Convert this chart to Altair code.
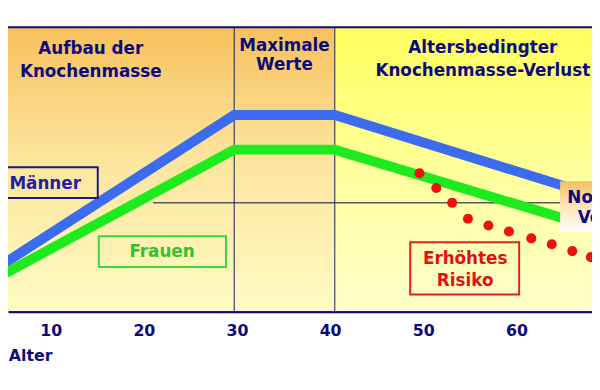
import altair as alt
import pandas as pd

# ---- data (age in years, bone mass in arbitrary units 0-100) ----
ages = [0, 29.7, 40.5, 66]
maenner = [6.3, 69.1, 69.1, 43.2]
frauen = [4.3, 56.9, 56.9, 31.8]

risk_age = [49.6, 51.4, 53.1, 54.8, 57.0, 59.2, 61.6, 63.8, 66.0, 68.0]
risk_mass = [48.6, 43.4, 38.2, 32.6, 30.2, 28.1, 25.7, 23.6, 21.2, 19.1]

phase_bounds = [29.7, 40.5]
tick_values = [10, 20, 30, 40, 50, 60]
ref_level = 38.2
ref_start = 21.0

phase_titles = ["Aufbau der", "Knochenmasse", "Maximale", "Werte",
                "Altersbedingter", "Knochenmasse-Verlust"]
phase_title_x = [14.3, 14.3, 35.1, 35.1, 56.4, 56.4]
phase_title_y = [90.6, 82.6, 91.8, 84.8, 90.9, 83.0]

NAVY = "#0B0B7D"
BLUE = "#3B6BEF"
GREEN = "#1EEB1E"
GREEN_TXT = "#2FC42F"
RED = "#EE1111"

X_DOMAIN = [5.41, 68.12]
xs = alt.Scale(domain=X_DOMAIN, nice=False, zero=False)
ys = alt.Scale(domain=[0, 100], nice=False, zero=False)
xaxis = alt.Axis(values=tick_values, title=None, ticks=False, tickSize=0, grid=False,
                 domainColor=NAVY, domainWidth=3, labelFont="DejaVu Sans",
                 labelFontWeight="bold", labelFontSize=16, labelColor=NAVY,
                 labelPadding=11, format="d", labelOverlap=False, labelFlush=False)


def X(f):
    return alt.X(f, type="quantitative", scale=xs, axis=xaxis)


def Y(f):
    return alt.Y(f, type="quantitative", scale=ys, axis=None)


def grad(stops):
    return alt.Gradient(gradient="linear",
                        stops=[alt.GradientStop(color=c, offset=o) for o, c in stops],
                        x1=0, x2=0, y1=0, y2=1)


# backgrounds
bg_left = alt.Chart(pd.DataFrame({"x": [0], "x2": [phase_bounds[1]], "y": [0], "y2": [100]})).mark_rect(
    fill=grad([(0, "#F8C05C"), (0.45, "#FCE49C"), (1, "#FFFBC4")]), strokeWidth=0, clip=True
).encode(x=X("x"), x2="x2", y=Y("y"), y2="y2")

bg_right = alt.Chart(pd.DataFrame({"x": [phase_bounds[1]], "x2": [80], "y": [0], "y2": [100]})).mark_rect(
    fill=grad([(0, "#FFFF5C"), (0.5, "#FFFF9C"), (1, "#FFFFCC")]), strokeWidth=0, clip=True
).encode(x=X("x"), x2="x2", y=Y("y"), y2="y2")

ref_rule = alt.Chart(pd.DataFrame({"x": [ref_start], "x2": [80], "y": [ref_level]})).mark_rule(
    color="#5A5A5A", strokeWidth=1.5, clip=True
).encode(x=X("x"), x2="x2", y=Y("y"))

vrules = alt.Chart(pd.DataFrame({"x": phase_bounds})).mark_rule(
    color="#1A1A60", strokeWidth=1
).encode(x=X("x"))

line_m = alt.Chart(pd.DataFrame({"age": ages, "mass": maenner})).mark_line(
    color=BLUE, strokeWidth=10, strokeJoin="miter", strokeCap="butt", clip=True
).encode(x=X("age"), y=Y("mass"))

line_f = alt.Chart(pd.DataFrame({"age": ages, "mass": frauen})).mark_line(
    color=GREEN, strokeWidth=10, strokeJoin="miter", strokeCap="butt", clip=True
).encode(x=X("age"), y=Y("mass"))

dots = alt.Chart(pd.DataFrame({"age": risk_age, "mass": risk_mass})).mark_circle(
    color=RED, size=105, opacity=1, clip=True
).encode(x=X("age"), y=Y("mass"))

# label boxes
boxes = pd.DataFrame({
    "x": [0, 15.16, 48.6], "x2": [15.05, 28.82, 60.3],
    "y": [39.9, 15.6, 5.9], "y2": [50.7, 26.4, 24.3],
    "c": ["#1A1A80", "#3ED43E", "#E02020"],
})
box_marks = alt.Chart(boxes).mark_rect(fillOpacity=0, strokeWidth=2, clip=True).encode(
    x=X("x"), x2="x2", y=Y("y"), y2="y2", stroke=alt.Stroke("c:N", scale=None)
)

norm_box = alt.Chart(pd.DataFrame({"x": [64.7], "x2": [76], "y": [28.1], "y2": [45.8]})).mark_rect(
    fill=grad([(0, "#F4C066"), (0.55, "#FCE8C0"), (1, "#FFFFFF")]), strokeWidth=0, clip=True
).encode(x=X("x"), x2="x2", y=Y("y"), y2="y2")

title_text = alt.Chart(pd.DataFrame({"t": phase_titles, "x": phase_title_x, "y": phase_title_y})).mark_text(
    font="DejaVu Sans", fontWeight="bold", fontSize=17, color=NAVY, align="center", baseline="alphabetic"
).encode(x=X("x"), y=Y("y"), text="t:N")

labels = pd.DataFrame({
    "t": ["Männer", "Frauen", "Erhöhtes", "Risiko"],
    "x": [9.4, 21.95, 54.5, 54.5],
    "y": [43.1, 19.1, 16.7, 9.0],
    "c": ["#2020A4", GREEN_TXT, "#E41010", "#E41010"],
})
label_text = alt.Chart(labels).mark_text(
    font="DejaVu Sans", fontWeight="bold", fontSize=17, align="center", baseline="alphabetic", clip=True
).encode(x=X("x"), y=Y("y"), text="t:N", color=alt.Color("c:N", scale=None))

norm_text = alt.Chart(pd.DataFrame({"t": ["Normaler", "Verlust"], "x": [70.2, 70.2], "y": [38.2, 31.25]})).mark_text(
    font="DejaVu Sans", fontWeight="bold", fontSize=17, color=NAVY, align="center", baseline="alphabetic", clip=True
).encode(x=X("x"), y=Y("y"), text="t:N")

axis_title = alt.Chart(pd.DataFrame({"t": ["Alter"], "x": [5.5], "y": [-17.4]})).mark_text(
    font="DejaVu Sans", fontWeight="bold", fontSize=16, color=NAVY, align="left", baseline="alphabetic"
).encode(x=X("x"), y=Y("y"), text="t:N")

top_rule = alt.Chart(pd.DataFrame({"y": [100]})).mark_rule(color=NAVY, strokeWidth=2).encode(y=Y("y"))

chart = alt.layer(
    bg_left, bg_right, ref_rule, vrules, line_m, line_f, dots,
    box_marks, norm_box, title_text, label_text, norm_text, axis_title, top_rule
).properties(
    width=592, height=288,
    autosize=alt.AutoSizeParams(type="none"),
    padding={"left": 0, "right": 0, "top": 17, "bottom": 60},
    background="white",
).configure_view(stroke=None)

chart.save("out.html", embed_options={"renderer": "svg", "actions": False})
